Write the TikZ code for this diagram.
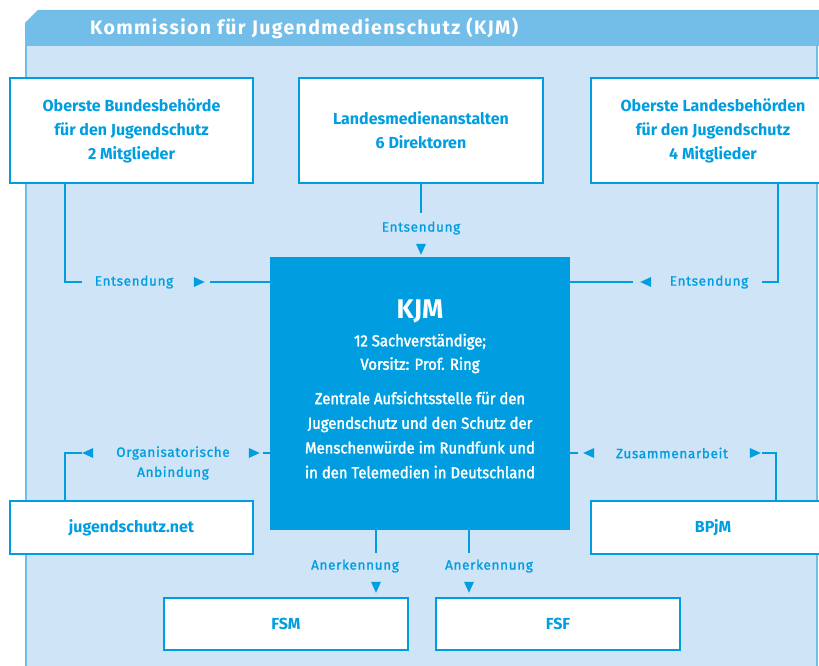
\documentclass[tikz,border=0pt]{standalone}
\usepackage{fontspec}
\usetikzlibrary{shapes.geometric}
\setmainfont{Fira Sans}
\newfontfamily\headfont{Fira Sans}[LetterSpace=7]
\newfontfamily\lblfont{Fira Sans}[LetterSpace=5, FakeBold=1.3]
\newfontfamily\descfont{Fira Sans}[FakeStretch=0.93, FakeBold=2]
\definecolor{kblue}{HTML}{009EE0}
\definecolor{panelc}{HTML}{CFE4F7}
\definecolor{headc}{HTML}{73BDE9}
\begin{document}
\begin{tikzpicture}[x=1pt,y=-1pt,
  box/.style={draw=kblue, line width=2.5pt, fill=white, inner sep=0pt, text=kblue,
    font=\fontsize{16}{24}\selectfont\bfseries, align=center},
  conn/.style={draw=kblue, line width=2.5pt},
  lbl/.style={text=kblue, font=\lblfont\fontsize{13.5}{20}\selectfont, align=center, inner sep=0pt},
  tri/.style={isosceles triangle, isosceles triangle stretches, fill=kblue, inner sep=0pt,
    minimum height=11pt, minimum width=10pt},
]
\useasboundingbox (0,0) rectangle (819,666);
% panel
\fill[panelc] (27,46) rectangle (817,666);
\fill[headc] (25,23) -- (38,10) -- (819,10) -- (819,46) -- (25,46) -- cycle;
\draw[headc, line width=2pt] (26,46) -- (26,666);
\draw[headc, line width=2pt] (817,46) -- (817,666);
\node[anchor=west, text=white, font=\headfont\fontsize{19.5}{22}\selectfont\bfseries, inner sep=0pt] (title) at (90,28) {Kommission für Jugendmedienschutz (KJM)};

% boxes
\node[box, minimum width=243pt, minimum height=105pt] (b1) at (131.5,130.5) {Oberste Bundesbehörde\\für den Jugendschutz\\2 Mitglieder};
\node[box, minimum width=244pt, minimum height=105pt] (b2) at (421,130.5) {Landesmedienanstalten\\6 Direktoren};
\node[box, minimum width=244pt, minimum height=105pt] (b3) at (713,130.5) {Oberste Landesbehörden\\für den Jugendschutz\\4 Mitglieder};
\node[fill=kblue, minimum width=300pt, minimum height=273pt, inner sep=0pt] (kjm) at (420,393.5) {};
\node[text=white, font=\fontsize{27}{30}\selectfont\bfseries, inner sep=0pt] (kjmtitle) at (420,311) {KJM};
\node[text=white, font=\descfont\fontsize{16}{23.5}\selectfont, align=center, inner sep=0pt] (kjmsub) at (420,353.5) {12 Sachverständige;\\Vorsitz: Prof. Ring};
\node[text=white, font=\descfont\fontsize{16}{24.7}\selectfont, align=center, inner sep=0pt] (kjmdesc) at (420,435) {Zentrale Aufsichtsstelle für den\\Jugendschutz und den Schutz der\\Menschenwürde im Rundfunk und\\in den Telemedien in Deutschland};
\node[box, minimum width=243pt, minimum height=53pt] (jn) at (131.5,527.5) {jugendschutz.net};
\node[box, minimum width=244pt, minimum height=53pt] (bp) at (713,527.5) {BPjM};
\node[box, minimum width=244pt, minimum height=52pt] (fsm) at (286,624) {FSM};
\node[box, minimum width=244pt, minimum height=52pt] (fsf) at (558,624) {FSF};

% coordinates
\coordinate (a1) at (65,282); \coordinate (a2) at (82,282); \coordinate (a3) at (210,282);
\coordinate (r1) at (778,282); \coordinate (r2) at (762,282); \coordinate (r3) at (633,282);
\coordinate (m1) at (421,213);
\coordinate (o1) at (65,453); \coordinate (o2) at (82,453); \coordinate (o3) at (263,453);
\coordinate (z1) at (776,453); \coordinate (z2) at (762,453); \coordinate (z3) at (578,453);
\coordinate (f1) at (376,553); \coordinate (f2) at (469,553);

% connectors
\draw[conn] (b1.south -| a1) -- (a1) -- (a2);
\draw[conn] (a3) -- (kjm.west |- a3);
\draw[conn] (b3.south -| r1) -- (r1) -- (r2);
\draw[conn] (r3) -- (kjm.east |- r3);
\draw[conn] (b2.south -| m1) -- (m1);
\draw[conn] (jn.north -| o1) -- (o1) -- (o2);
\draw[conn] (o3) -- (kjm.west |- o3);
\draw[conn] (bp.north -| z1) -- (z1) -- (z2);
\draw[conn] (z3) -- (kjm.east |- z3);
\draw[conn] (kjm.south -| f1) -- (f1);
\draw[conn] (kjm.south -| f2) -- (f2);

% labels
\node[lbl] (l1) at (134,282) {Entsendung};
\node[lbl] (l2) at (709,282) {Entsendung};
\node[lbl] (l3) at (421,228) {Entsendung};
\node[lbl] (l4) at (173,463) {Organisatorische\\Anbindung};
\node[lbl] (l5) at (672,453) {Zusammenarbeit};
\node[lbl] (l6) at (355,566) {Anerkennung};
\node[lbl] (l7) at (489,566) {Anerkennung};

% arrowheads
\node[tri, shape border rotate=0] (t1) at (197,282) {};
\node[tri, shape border rotate=180] (t2) at (648,282) {};
\node[tri, shape border rotate=-90] (t3) at (421,247) {};
\node[tri, shape border rotate=180] (t4) at (90,453) {};
\node[tri, shape border rotate=0] (t5) at (252,453) {};
\node[tri, shape border rotate=180] (t6) at (591,453) {};
\node[tri, shape border rotate=0] (t7) at (753,453) {};
\node[tri, shape border rotate=-90] (t8) at (376,585) {};
\node[tri, shape border rotate=-90] (t9) at (469,585) {};
\end{tikzpicture}
\end{document}
